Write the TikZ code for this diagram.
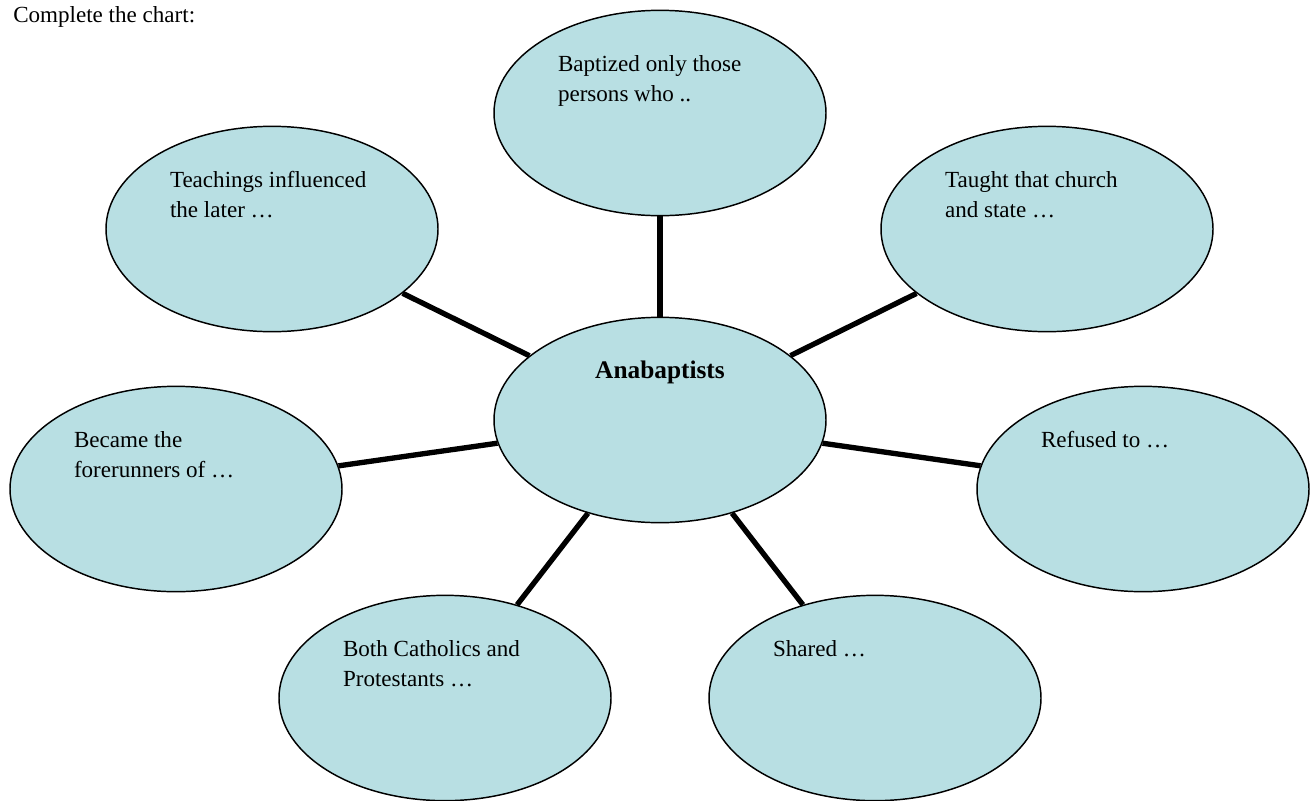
\documentclass[tikz,border=0pt]{standalone}
\usepackage{fontspec}
\setmainfont{Liberation Serif}
\usetikzlibrary{shapes.geometric}
\definecolor{bubblefill}{RGB}{184,223,227}
\newcommand*\bubbletext[1]{\parbox[c][94.5pt][t]{153pt}{\strut #1}}

\begin{document}
\begin{tikzpicture}[x=0.75pt,y=-0.75pt,font=\fontsize{17.3}{22.5}\selectfont]
		\tikzstyle{idea}=[ellipse,draw=black,line width=1.1pt,fill=bubblefill,
			minimum width=249pt,minimum height=154pt,inner sep=0pt]
		\tikzstyle{spoke}=[line width=4pt]

		\useasboundingbox (0,0) rectangle (1313,800);
		\node[anchor=base west, inner sep=0pt] (title) at (13,22) {Complete the chart:};

		\node[idea] (0) at (660,420) {\parbox[c][94.5pt][t]{153pt}{\centering\strut
			{\fontsize{19}{22.5}\selectfont\textbf{Anabaptists}}}};
		\node[idea] (1) at (660,113)  {\bubbletext{Baptized only those\\ persons who ..}};
		\node[idea] (2) at (1047,229) {\bubbletext{Taught that church\\ and state \dots}};
		\node[idea] (3) at (1143,489) {\bubbletext{Refused to \dots}};
		\node[idea] (4) at (875,698)  {\bubbletext{Shared \dots}};
		\node[idea] (5) at (445,698)  {\bubbletext{Both Catholics and\\ Protestants \dots}};
		\node[idea] (6) at (176,489)  {\bubbletext{Became the\\ forerunners of \dots}};
		\node[idea] (7) at (272,229)  {\bubbletext{Teachings influenced\\ the later \dots}};

		\path[spoke] (0) edge (1)
					edge (2)
					edge (3)
					edge (4)
					edge (5)
					edge (6)
					edge (7);
\end{tikzpicture}
\end{document}
